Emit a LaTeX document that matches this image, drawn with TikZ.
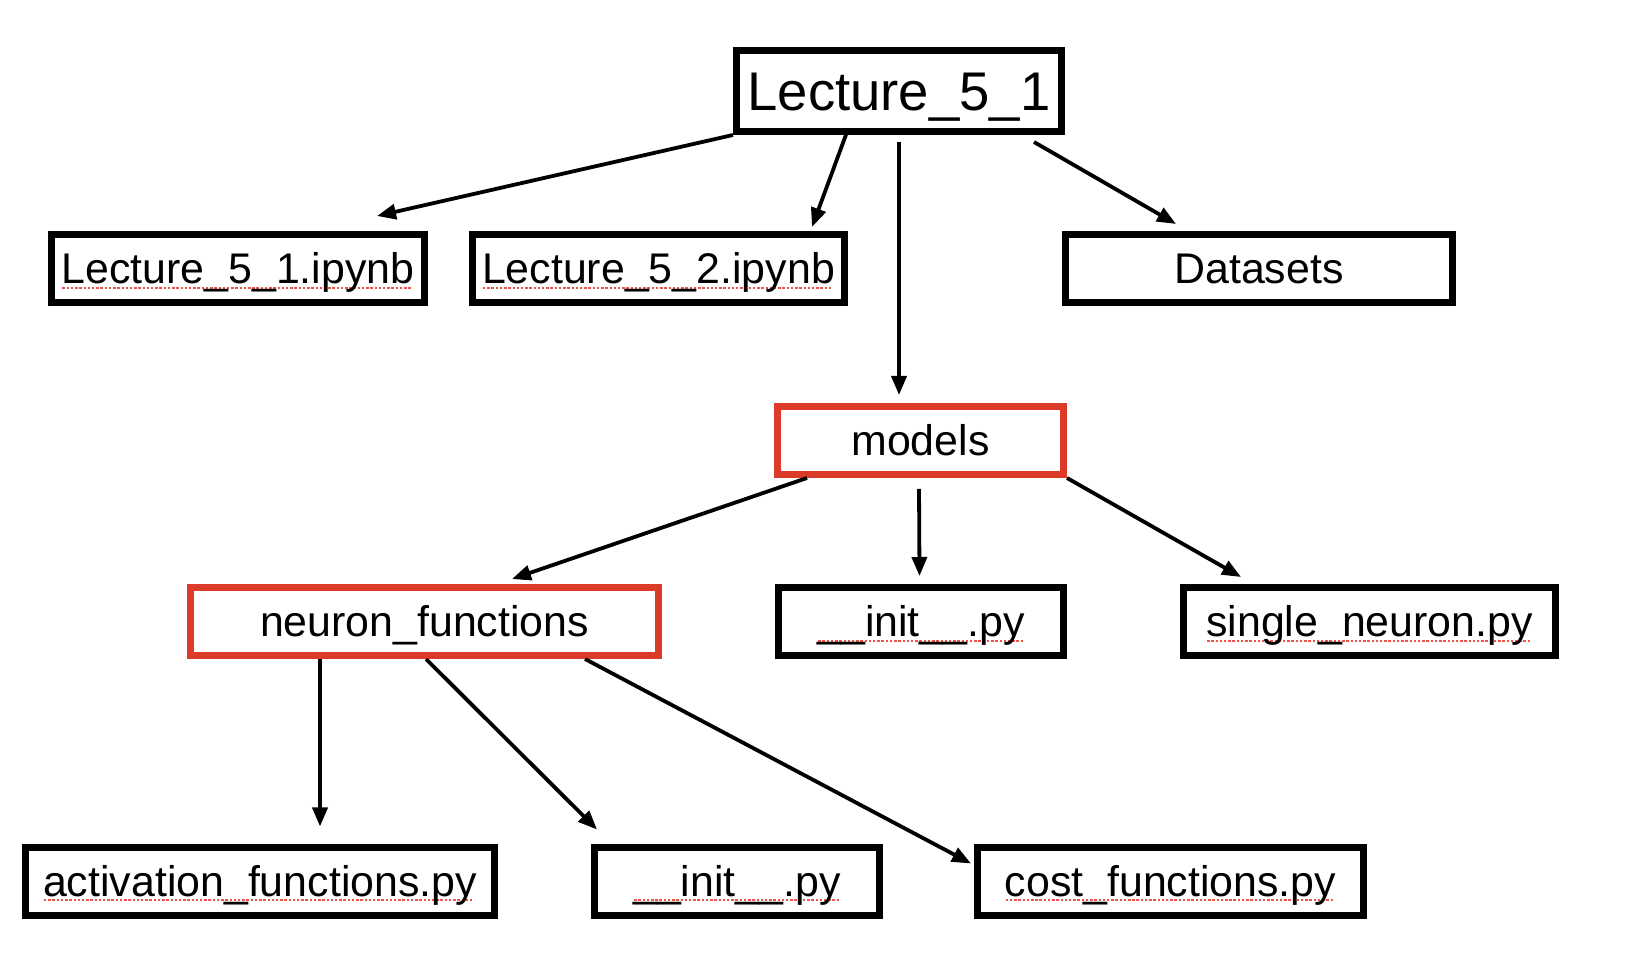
\documentclass[tikz,border=0pt]{standalone}
\usepackage{fontspec}
\setmainfont{Liberation Sans}
\usetikzlibrary{arrows.meta}
\definecolor{boxred}{RGB}{220,59,42}
\definecolor{spellred}{RGB}{236,84,72}
\newsavebox\spellbox
% red dotted underline under a word
\newcommand\spell[1]{\sbox\spellbox{#1}\rlap{\color{spellred}\raisebox{-1.4pt}{\hbox to \wd\spellbox{\leaders\hbox to 1.2pt{\hss\rule{0.7pt}{0.6pt}\hss}\hfill}}}\usebox\spellbox}
\begin{document}
\begin{tikzpicture}[
	box/.style={draw=black,line width=0.07cm,inner sep=0pt,minimum height=0.68cm,
		text height=8.75pt,text depth=0pt,font=\fontsize{12.2}{14}\selectfont},
	redbox/.style={box,draw=boxred},
	link/.style={-{Triangle[length=0.19cm,width=0.15cm]},line width=0.038cm}]
	\useasboundingbox (0,0) rectangle (16.32,-9.74);
	\node[box,minimum width=3.25cm,minimum height=0.81cm,text height=11.1pt,
		font=\fontsize{15.5}{18}\selectfont] (root) at (8.99,-0.91) {Lecture\_5\_1};
	\node[box,minimum width=3.73cm] (nb1) at (2.38,-2.685) {\spell{Lecture\_5\_1.ipynb}};
	\node[box,minimum width=3.72cm] (nb2) at (6.585,-2.685) {\spell{Lecture\_5\_2.ipynb}};
	\node[box,minimum width=3.87cm] (data) at (12.59,-2.685) {Datasets};
	\node[redbox,minimum width=2.86cm] (models) at (9.205,-4.405) {models};
	\node[redbox,minimum width=4.68cm] (neuron) at (4.245,-6.215) {neuron\_functions};
	\node[box,minimum width=2.85cm] (init1) at (9.21,-6.215) {\spell{\_\_init\_\_.py}};
	\node[box,minimum width=3.72cm] (single) at (13.695,-6.215) {\spell{single\_neuron.py}};
	\node[box,minimum width=4.69cm] (act) at (2.60,-8.81) {\spell{activation\_functions.py}};
	\node[box,minimum width=2.85cm] (init2) at (7.37,-8.81) {\spell{\_\_init\_\_.py}};
	\node[box,minimum width=3.86cm] (cost) at (11.705,-8.81) {\spell{cost\_functions.py}};
	\path [link] (root.south west) edge ([xshift=-0.51cm,yshift=0.15cm]nb1.north east);
	\path [link] ([xshift=-0.52cm,yshift=0.03cm]root.south) edge ([xshift=-0.36cm,yshift=0.04cm]nb2.north east);
	\path [link] ([yshift=-0.07cm]root.south) edge ([xshift=-0.215cm,yshift=0.08cm]models.north);
	\path [link] ([xshift=-0.31cm,yshift=-0.07cm]root.south east) edge ([xshift=1.14cm,yshift=0.07cm]data.north west);
	\path [link] ([xshift=0.33cm]models.south west) edge ([xshift=0.875cm,yshift=0.05cm]neuron.north);
	\path [link] ([xshift=-0.015cm,yshift=-0.11cm]models.south) edge ([xshift=-0.015cm,yshift=0.08cm]init1.north);
	\path [link] (models.south east) edge ([xshift=0.61cm,yshift=0.07cm]single.north west);
	\path [link] ([xshift=0.60cm]act.north |- neuron.south) edge ([xshift=0.60cm,yshift=0.17cm]act.north);
	\path [link] ([xshift=0.015cm]neuron.south) edge ([xshift=0.06cm,yshift=0.14cm]init2.north west);
	\path [link] ([xshift=1.605cm]neuron.south) edge ([xshift=-0.03cm,yshift=-0.20cm]cost.north west);
\end{tikzpicture}
\end{document}
